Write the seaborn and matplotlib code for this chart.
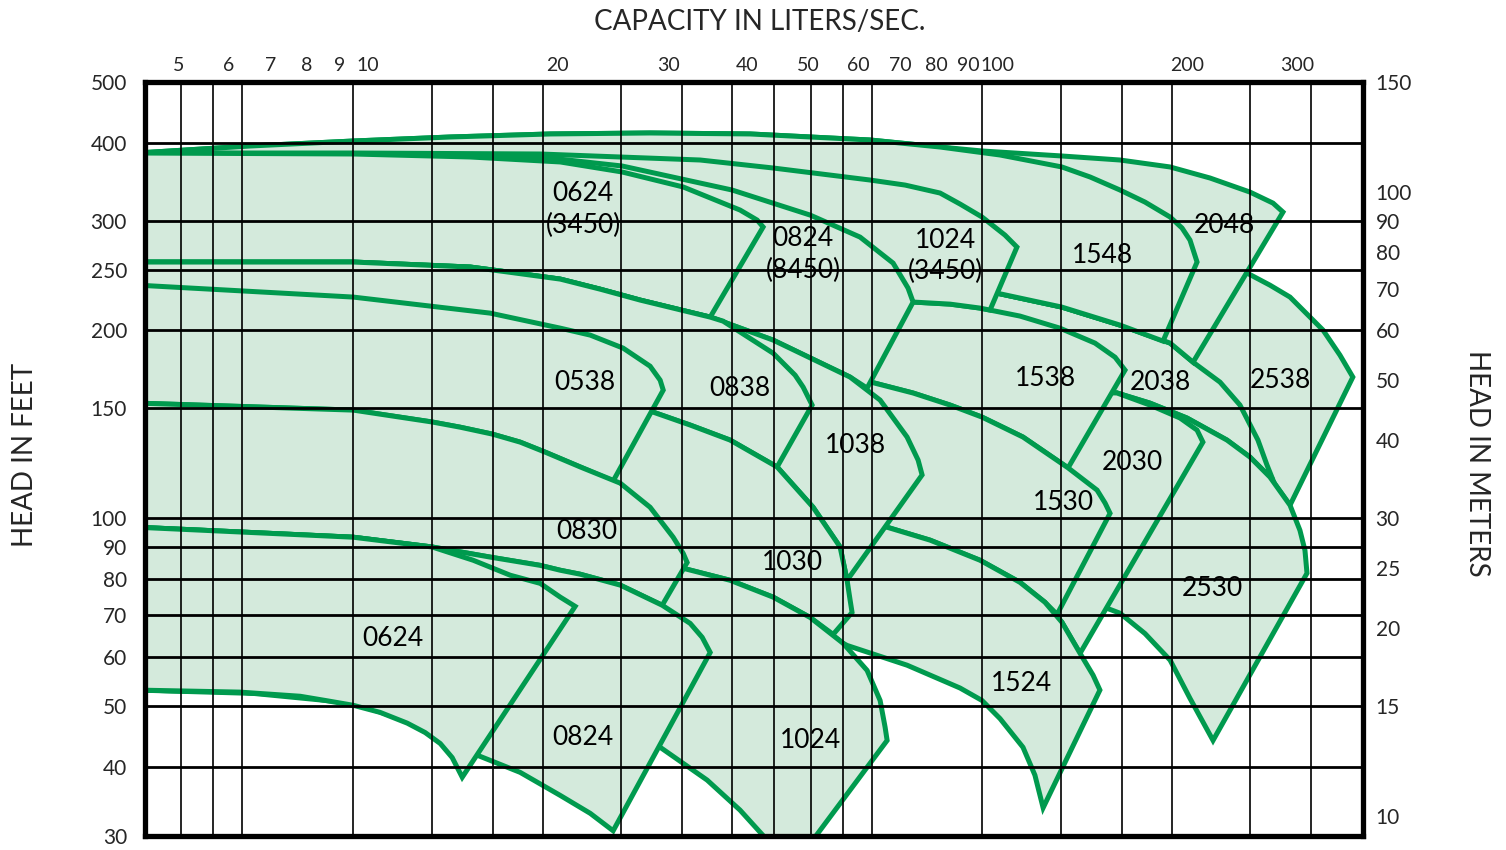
import matplotlib
matplotlib.use("Agg")
import matplotlib.pyplot as plt
from matplotlib.ticker import NullLocator, NullFormatter
import seaborn as sns

sns.set_style("white")
plt.rcParams["font.family"] = ["Lato", "DejaVu Sans"]

GREEN = "#009a4e"
FILL = "#d4eadc"

# all curves: capacity in liters/sec, head in feet
# 1750 rpm "38" max curves (also shared by some hidden edges)
t1038_ls = [4.3, 9.47, 14.53, 17.13, 20.20, 23.37, 27.06, 34.96, 44.02, 58.33, 65.10, 71.85, 74.81, 75.91]
t1038_ft = [257.4, 257.4, 252.7, 247.2, 241.7, 232.9, 223.7, 210.1, 193.0, 168.4, 154.7, 135.0, 124.0, 117.4]
I710 = 8   # t1038 points up to 35 L/s
I850 = 10  # t1038 points up to 58 L/s
t0838_ls = [36.65, 44.02, 47.70, 49.12, 50.76]
t0838_ft = [207.0, 183.9, 169.6, 162.3, 151.9]
t0538_ls = [4.3, 9.47, 15.63, 20.20, 22.54, 25.42, 28.06, 29.11, 29.44]
t0538_ft = [236.4, 226.2, 213.2, 201.7, 196.6, 187.4, 175.3, 166.5, 160.5]
t1538_ls = [4.3, 9.47, 14.53, 20.20, 27.06, 34.96, 48.58, 73.45, 84.09, 93.85, 108.6, 125.7, 142.9, 153.8, 159.5]
t1538_ft = [257.4, 257.4, 252.7, 244.4, 232.1, 223.7, 222.1, 222.1, 220.4, 217.2, 210.9, 201.7, 190.9, 181.2, 172.8]
t2038_ls = [4.3, 9.47, 14.53, 20.20, 27.06, 34.96, 48.58, 70.03, 87.22, 99.86, 126.6, 156.6,
            188.1, 204.6, 225.8, 242.9, 259.4, 268.1, 274.1]
t2038_ft = [257.4, 257.4, 253.6, 248.1, 240.6, 236.4, 233.8, 232.1, 231.2, 229.5, 218.0, 204.0,
            190.9, 177.9, 165.3, 151.9, 133.5, 121.8, 115.2]
t2538_ls = [4.3, 9.47, 23.37, 84.09, 145.5, 209.8, 249.2, 271.0, 291.7, 329.1, 350.2, 367.1]
t2538_ft = [257.4, 257.4, 253.6, 252.7, 251.8, 249.9, 247.2, 236.4, 226.2, 200.3, 182.6, 168.4]

# "30" curves
t1030_ls = [4.3, 11.25, 19.47, 28.37, 32.49, 37.60, 44.66, 50.94, 56.23, 57.69, 58.33, 58.75]
t1030_ft = [153.0, 152.5, 150.8, 148.0, 141.1, 133.5, 120.9, 104.2, 90.0, 79.6, 74.0, 70.7]
t0830_ls = [4.3, 9.47, 12.64, 14.00, 15.74, 17.44, 19.11, 21.73, 25.15, 28.06, 30.53, 31.67, 32.13]
t0830_ft = [153.0, 149.1, 142.7, 140.0, 136.5, 132.5, 127.7, 120.9, 113.9, 104.2, 93.3, 87.9, 85.0]
t1530_ls = [62.07, 73.45, 84.09, 94.52, 109.8, 129.5, 144.0, 148.3, 151.0]
t1530_ft = [165.9, 158.8, 151.9, 145.3, 135.0, 120.5, 111.0, 105.8, 101.9]
t2530_ls = [62.07, 84.09, 121.2, 154.9, 174.7, 200.1, 231.6, 251.9, 271.0, 291.7, 302.5, 308.1, 310.4]
t2530_ft = [165.9, 163.5, 160.5, 158.8, 153.0, 144.8, 133.5, 125.4, 116.5, 105.0, 95.7, 88.9, 81.7]
t2030_ls = [174.7, 195.1, 207.6, 212.1]
t2030_ft = [151.9, 144.8, 138.5, 132.5]
b2530_ls = [121.2, 135.3, 149.3, 156.6, 171.6, 188.1, 202.3, 220.1]
b2530_ft = [74.5, 73.1, 71.8, 70.5, 65.4, 59.3, 51.5, 44.1]

# "24" curves
t0624_ls = [4.3, 9.47, 12.64, 14.69, 16.82, 18.77, 20.20, 21.33]
t0624_ft = [96.8, 93.3, 90.0, 85.7, 81.1, 78.7, 74.8, 72.3]
b0624_ls = [4.3, 6.26, 7.80, 8.55, 9.47, 10.45, 11.54, 12.32, 13.02, 13.60, 14.11]
b0624_ft = [53.1, 52.7, 51.9, 51.1, 50.2, 48.9, 47.0, 45.4, 43.6, 41.4, 38.5]
t0824_ls = [4.3, 9.47, 12.64, 15.74, 18.77, 20.20, 21.73, 25.15, 29.33, 32.49, 33.95, 34.96]
t0824_ft = [96.8, 93.3, 90.0, 86.6, 84.1, 82.6, 81.4, 78.2, 72.6, 67.9, 64.5, 61.0]
b0824_ls = [4.3, 6.26, 9.47, 12.10, 14.96, 17.44, 20.20, 22.54, 24.51]
b0824_ft = [53.1, 52.7, 50.6, 46.6, 41.7, 39.2, 36.0, 33.7, 31.6]
t1024_ls = [4.3, 9.47, 13.50, 19.47, 25.15, 31.67, 37.60, 44.02, 50.39, 56.85, 62.07, 65.10, 66.30, 66.79]
t1024_ft = [96.8, 94.0, 90.6, 87.9, 85.7, 83.2, 79.6, 74.8, 69.4, 63.1, 57.1, 51.1, 46.3, 44.1]
b1024_ls = [4.3, 9.47, 14.96, 20.20, 25.15, 29.11, 34.57, 39.00, 42.43, 46.84]
b1024_ft = [53.1, 51.9, 49.6, 47.8, 45.6, 43.0, 38.1, 34.1, 31.05, 27.3]
t1524_ls = [4.3, 66.79, 78.16, 93.85, 108.6, 119.0, 126.6, 135.3, 141.9, 145.5]
t1524_ft = [96.8, 96.8, 92.3, 85.7, 79.0, 73.4, 68.2, 60.8, 56.1, 53.1]
b1524_ls = [57.69, 71.85, 87.22, 94.52, 100.95, 109.8, 114.7, 118.2]
b1524_ft = [62.6, 58.2, 53.5, 51.1, 47.8, 43.0, 38.8, 34.4]

# 3450 rpm curves
t2048_ls = [4.3, 6.50, 9.47, 13.50, 19.47, 28.06, 40.46, 62.76, 81.07, 94.52, 126.6, 156.6,
            188.1, 217.7, 251.9, 274.1, 284.3]
t2048_ft = [384.8, 394.9, 402.2, 408.2, 412.8, 414.3, 412.8, 403.7, 393.4, 387.7, 380.6, 375.0,
            365.5, 350.9, 333.2, 319.9, 309.5]
t1548_ls = [100.95, 126.6, 140.4, 156.6, 171.6, 188.1, 196.5, 202.3, 207.6]
t1548_ft = [382.0, 365.5, 352.2, 335.7, 321.1, 303.9, 291.8, 279.1, 257.4]
t1024h_ls = [4.3, 9.47, 18.77, 33.70, 44.02, 62.76, 71.33, 81.07, 87.22, 94.52, 102.8, 107.4]
t1024h_ft = [384.8, 384.8, 383.4, 375.0, 364.1, 348.3, 341.9, 332.0, 318.8, 303.9, 284.3, 272.0]
t0824h_ls = [4.3, 9.47, 18.77, 25.33, 37.88, 50.39, 60.50, 68.27, 72.11, 73.45]
t0824h_ft = [384.8, 383.4, 379.2, 366.8, 335.7, 306.1, 282.2, 256.4, 233.8, 222.1]
t0624h_ls = [4.3, 9.47, 14.53, 20.20, 25.33, 31.67, 39.00, 41.51, 42.43]
t0624h_ft = [384.8, 383.4, 379.2, 372.3, 358.8, 339.5, 311.8, 300.5, 292.9]

# regions in drawing order: (top x, top y, bottom x, bottom y)
regions = [
    (t2538_ls, t2538_ft, t1038_ls[:I850] + t2530_ls[:10], t1038_ft[:I850] + t2530_ft[:10]),
    (t2038_ls, t2038_ft, t1038_ls[:I850] + t2530_ls[:9], t1038_ft[:I850] + t2530_ft[:9]),
    (t2048_ls, t2048_ft, t2038_ls[:14], t2038_ft[:14]),
    (t2048_ls[:9] + t1548_ls, t2048_ft[:9] + t1548_ft, t2038_ls[:12] + [183.3], t2038_ft[:12] + [192.3]),
    (t1038_ls[:I850] + t2530_ls, t1038_ft[:I850] + t2530_ft, t1524_ls[:5] + b2530_ls, t1524_ft[:5] + b2530_ft),
    (t1038_ls[:I850] + t2530_ls[:4] + t2030_ls, t1038_ft[:I850] + t2530_ft[:4] + t2030_ft,
     t1524_ls[:8], t1524_ft[:8]),
    (t1538_ls, t1538_ft, t1038_ls[:I850] + t1530_ls[:6], t1038_ft[:I850] + t1530_ft[:6]),
    (t1038_ls[:I850] + t1530_ls, t1038_ft[:I850] + t1530_ft, t1524_ls[:6] + [124.4], t1524_ft[:6] + [70.2]),
    (t1024h_ls, t1024h_ft, t1538_ls[:10] + [97.32], t1538_ft[:10] + [215.6]),
    (t0824h_ls, t0824h_ft, t1038_ls[:I850] + [62.07], t1038_ft[:I850] + [161.7]),
    (t0624h_ls, t0624h_ft, t1038_ls[:I710], t1038_ft[:I710]),
    (t1524_ls, t1524_ft, t1024_ls[:10] + b1524_ls, t1024_ft[:10] + b1524_ft),
    (t1038_ls, t1038_ft, t1030_ls[:10], t1030_ft[:10]),
    (t1038_ls[:I710] + t0838_ls, t1038_ft[:I710] + t0838_ft, t1030_ls[:7], t1030_ft[:7]),
    (t1030_ls, t1030_ft, t1024_ls[:9] + [54.82], t1024_ft[:9] + [65.2]),
    (t0538_ls, t0538_ft, t0830_ls[:8] + [24.51], t0830_ft[:8] + [114.8]),
    (t1024_ls, t1024_ft, b1024_ls, b1024_ft),
    (t0830_ls, t0830_ft, t0824_ls[:9], t0824_ft[:9]),
    (t0824_ls, t0824_ft, b0824_ls, b0824_ft),
    (t0624_ls, t0624_ft, b0624_ls, b0624_ft),
]

labels = ["0624", "(3450)", "0824", "(8450)", "1024", "(3450)", "1548", "2048", "0538", "0838",
          "1038", "1538", "2038", "2538", "2030", "1530", "0830", "1030", "2530", "0624", "1524",
          "0824", "1024"]
label_ls = [21.96, 21.96, 49.12, 49.12, 82.57, 82.57, 147.1, 229.1, 22.13, 39.00, 59.41, 119.0,
            181.3, 281.2, 163.6, 127.2, 22.29, 47.18, 219.3, 10.96, 109.4, 21.96, 50.39]
label_ft = [332.0, 295.0, 281.2, 249.9, 279.1, 249.0, 264.1, 295.0, 165.3, 161.7, 131.0, 167.7,
            165.3, 166.5, 122.7, 106.2, 95.4, 85.0, 77.3, 64.2, 54.4, 44.6, 44.1]

top_ticks = [5, 6, 7, 8, 9, 10, 20, 30, 40, 50, 60, 70, 80, 90, 100, 200, 300]
left_ticks = [31, 40, 50, 60, 70, 80, 90, 100, 150, 200, 250, 300, 400, 500]
left_labels = ["30", "40", "50", "60", "70", "80", "90", "100", "150", "200", "250", "300", "400", "500"]
meter_ticks = [10, 15, 20, 25, 30, 40, 50, 60, 70, 80, 90, 100, 150]
gpm_grid = [80, 90, 100, 150, 200, 250, 300, 400, 500, 600, 700, 800, 900, 1000,
            1500, 2000, 2500, 3000, 4000, 5000]
ft_grid = [40, 50, 60, 70, 80, 90, 100, 150, 200, 250, 300, 400]

fig = plt.figure(figsize=(15.06, 8.5), dpi=100)
ax = fig.add_axes([145 / 1506, 1 - 836 / 850, 1218 / 1506, 754 / 850])
ax.set_xscale("log")
ax.set_yscale("log")
ax.set_xlim(4.42, 381)
ax.set_ylim(31, 500)

for i, (tx, ty, bx, by) in enumerate(regions):
    xs = list(tx) + list(bx)[::-1]
    ys = list(ty) + list(by)[::-1]
    z = 1 + i * 0.05
    ax.fill(xs, ys, color=FILL, lw=0, zorder=z)
    sns.lineplot(x=xs + [xs[0]], y=ys + [ys[0]], sort=False, estimator=None, ax=ax,
                 color=GREEN, lw=3.6, zorder=z + 0.01, solid_joinstyle="miter")

for g in gpm_grid:
    ax.axvline(g / 15.85, color="black", lw=1.2, zorder=5)
for h in ft_grid:
    ax.axhline(h, color="black", lw=2.0, zorder=5)

for s, x, y in zip(labels, label_ls, label_ft):
    ax.text(x, y, s, ha="center", va="center", fontsize=19, color="black", zorder=7)

ax.xaxis.tick_top()
ax.set_xticks(top_ticks)
ax.set_xticklabels([str(v) for v in top_ticks])
ax.xaxis.set_minor_locator(NullLocator())
ax.xaxis.set_minor_formatter(NullFormatter())
ax.set_yticks(left_ticks)
ax.set_yticklabels(left_labels)
ax.yaxis.set_minor_locator(NullLocator())
ax.yaxis.set_minor_formatter(NullFormatter())
ax.tick_params(axis="x", length=0, pad=6, labelsize=14)
ax.tick_params(axis="y", length=0, pad=13, labelsize=15)

# right scale as printed on the chart: 500 ft at the top reads 150 m
sec = ax.secondary_yaxis("right", functions=(lambda f: f * 0.3, lambda m: m / 0.3))
sec.set_yticks(meter_ticks)
sec.set_yticklabels([str(v) for v in meter_ticks])
sec.yaxis.set_minor_locator(NullLocator())
sec.yaxis.set_minor_formatter(NullFormatter())
sec.tick_params(length=0, pad=9, labelsize=15)
for sp in sec.spines.values():
    sp.set_visible(False)

for sp in ax.spines.values():
    sp.set_visible(True)
    sp.set_linewidth(3.8)
    sp.set_color("black")
    sp.set_zorder(6)

fig.text(760 / 1506, 1 - 22 / 850, "CAPACITY IN LITERS/SEC.", ha="center", va="center", fontsize=20)
fig.text(25 / 1506, 1 - 455 / 850, "HEAD IN FEET", ha="center", va="center", fontsize=20, rotation=90)
fig.text(1477 / 1506, 1 - 463 / 850, "HEAD IN METERS", ha="center", va="center", fontsize=20, rotation=270)

fig.savefig("out.png", dpi=100)
